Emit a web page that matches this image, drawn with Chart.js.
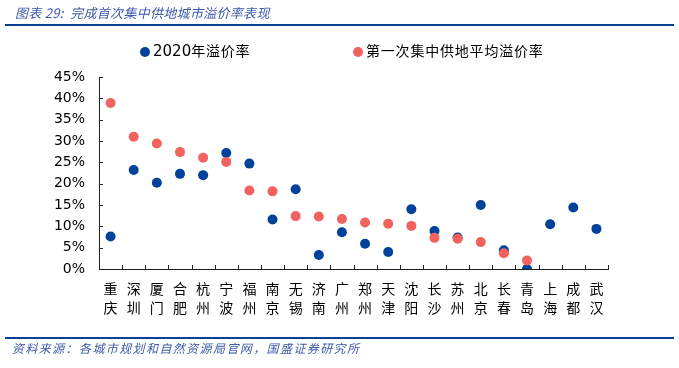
<!DOCTYPE html>
<html>
<head>
<meta charset="utf-8">
<script src="https://cdn.jsdelivr.net/npm/chart.js@4.4.1/dist/chart.umd.min.js"></script>
<style>
  html, body { margin: 0; padding: 0; background: #fff; }
  #wrap { position: relative; width: 679px; height: 368px; overflow: hidden; }
  #myChart { position: absolute; left: 0; top: 0; }
  .titulo { position: absolute; left: 15px; top: 3px; font: italic 13px "Noto Sans CJK SC", sans-serif; color: #3b5aa8; letter-spacing: 0.3px; }
  .linea { position: absolute; left: 5px; width: 669px; height: 2px; background: #0b3f94; }
  .fuente { position: absolute; left: 12px; top: 339px; font: italic 12px "Noto Sans CJK SC", sans-serif; color: #3b5aa8; letter-spacing: 1.4px; }
  .leyenda { position: absolute; top: 40px; font: 14px "Noto Sans CJK SC", sans-serif; color: #000; letter-spacing: 0.8px; white-space: nowrap; }
  .leyenda span.dot { display: inline-block; width: 10px; height: 10px; border-radius: 50%; margin-right: 3px; vertical-align: -1px; }
  .leyenda .num { font-family: "DejaVu Sans", sans-serif; letter-spacing: 0; font-size: 15px; }
</style>
</head>
<body>
<div id="wrap">
  <canvas id="myChart" width="679" height="368"></canvas>
  <div class="titulo">图表 29:&nbsp; 完成首次集中供地城市溢价率表现</div>
  <div class="linea" style="top:24px"></div>
  <div class="leyenda" id="ley1" style="left:140px"></div>
  <div class="leyenda" id="ley2" style="left:353px"></div>
  <div class="linea" style="top:337px"></div>
  <div class="fuente">资料来源：各城市规划和自然资源局官网，国盛证券研究所</div>
</div>
<script>
// Ciudades (categorías del eje X)
const ciudades = ['重庆', '深圳', '厦门', '合肥', '杭州', '宁波', '福州', '南京', '无锡', '济南', '广州',
  '郑州', '天津', '沈阳', '长沙', '苏州', '北京', '长春', '青岛', '上海', '成都', '武汉'];

// Prima 2020 (%)
const prima2020 = [7.6, 23.2, 20.2, 22.3, 22.0, 27.2, 24.7, 11.6, 18.7, 3.3, 8.6,
  5.9, 4.0, 14.0, 8.9, 7.4, 15.0, 4.4, 0.0, 10.5, 14.4, 9.4];

// Prima media de la primera subasta centralizada (%)
const primaPrimera = [38.9, 31.0, 29.4, 27.4, 26.1, 25.1, 18.4, 18.2, 12.4, 12.3, 11.7,
  10.9, 10.6, 10.1, 7.3, 7.1, 6.3, 3.7, 2.0, null, null, null];

// Etiquetas del eje Y
const ticksY = [0, 5, 10, 15, 20, 25, 30, 35, 40, 45];

const nombreSerie1 = '2020年溢价率';
const nombreSerie2 = '第一次集中供地平均溢价率';
const azul = '#00419a';
const rojo = '#f2625f';

// Leyenda en HTML
document.getElementById('ley1').innerHTML =
  '<span class="dot" style="background:' + azul + '"></span><span class="num">2020</span>年溢价率';
document.getElementById('ley2').innerHTML =
  '<span class="dot" style="background:' + rojo + '"></span>' + nombreSerie2;

// Marcas hacia dentro en los ejes
const marcasInternas = {
  id: 'marcasInternas',
  afterDraw(chart) {
    const ctx = chart.ctx;
    const x = chart.scales.x;
    const y = chart.scales.y;
    ctx.save();
    ctx.strokeStyle = '#222';
    ctx.lineWidth = 1;
    ctx.beginPath();
    const n = ciudades.length;
    for (let i = 0; i <= n; i++) {
      const px = Math.round(x.left + i * x.width / n) + 0.5;
      ctx.moveTo(px, y.bottom);
      ctx.lineTo(px, y.bottom - 4);
    }
    ticksY.forEach(v => {
      const py = Math.round(y.getPixelForValue(v)) + 0.5;
      ctx.moveTo(x.left, py);
      ctx.lineTo(x.left + 4, py);
    });
    ctx.stroke();
    ctx.restore();
  }
};

let ctx = document.getElementById('myChart').getContext('2d');
let myChart = new Chart(ctx, {
  type: 'line',
  data: {
    labels: ciudades.map(c => c.split('')),
    datasets: [{
      label: nombreSerie2,
      data: primaPrimera,
      showLine: false,
      pointRadius: 5,
      pointHoverRadius: 5,
      pointBackgroundColor: rojo,
      pointBorderColor: rojo,
      pointBorderWidth: 0
    }, {
      label: nombreSerie1,
      data: prima2020,
      showLine: false,
      pointRadius: 5,
      pointHoverRadius: 5,
      pointBackgroundColor: azul,
      pointBorderColor: azul,
      pointBorderWidth: 0
    }]
  },
  options: {
    responsive: false,
    animation: false,
    layout: { padding: { top: 77, right: 71, left: 0, bottom: 0 } },
    plugins: {
      legend: { display: false },
      tooltip: { enabled: false }
    },
    scales: {
      x: {
        offset: true,
        grid: { display: false, drawTicks: false },
        border: { display: true, color: '#222', width: 1 },
        ticks: {
          color: '#000',
          autoSkip: false,
          maxRotation: 0,
          padding: 10,
          font: { family: '"Noto Sans CJK SC"', size: 14, lineHeight: 1.36 }
        },
        afterFit: s => { s.height = 99; }
      },
      y: {
        min: 0,
        max: 45,
        grid: { display: false, drawTicks: false },
        border: { display: true, color: '#222', width: 1 },
        afterBuildTicks: s => { s.ticks = ticksY.map(v => ({ value: v })); },
        ticks: {
          color: '#000',
          padding: 14,
          font: { family: '"DejaVu Sans"', size: 14 },
          callback: v => v + '%'
        },
        afterFit: s => { s.width = 99; }
      }
    }
  },
  plugins: [marcasInternas]
});
</script>
</body>
</html>
